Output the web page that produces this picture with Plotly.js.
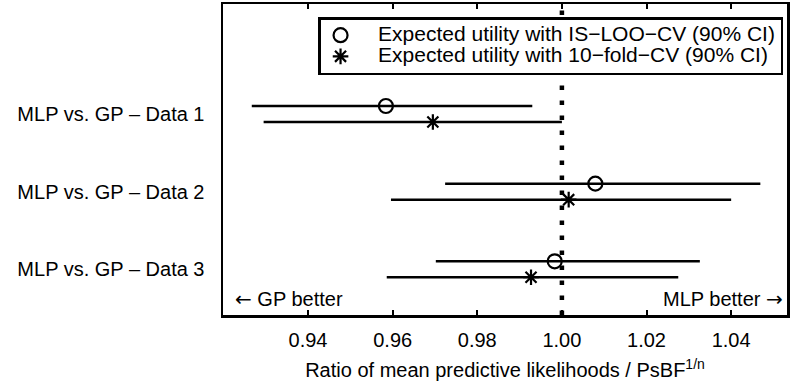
<!DOCTYPE html>
<html>
<head>
<meta charset="utf-8">
<script src="https://cdn.plot.ly/plotly-3.0.1.min.js"></script>
<style>html,body{margin:0;padding:0;background:#fff;}#chart{width:795px;height:388px;}</style>
</head>
<body>
<div id="chart"></div>
<script>
// ---- data ----
const categories = ['MLP vs. GP – Data 1', 'MLP vs. GP – Data 2', 'MLP vs. GP – Data 3'];
const looMean = [0.9584, 1.0079, 0.9983];
const looLow  = [0.9267, 0.9724, 0.9702];
const looHigh = [0.9930, 1.0469, 1.0326];
const cvMean  = [0.9695, 1.0016, 0.9927];
const cvLow   = [0.9295, 0.9596, 0.9586];
const cvHigh  = [1.0000, 1.0400, 1.0275];
const xTicks = [0.94, 0.96, 0.98, 1.00, 1.02, 1.04];
const xTickText = ['0.94', '0.96', '0.98', '1.00', '1.02', '1.04'];
const seriesNames = ['Expected utility with IS−LOO−CV (90% CI)', 'Expected utility with 10−fold−CV (90% CI)'];
const refValue = 1.0;

const FONT = 'Liberation Sans, Arial, Helvetica, sans-serif';
const ARROW = '<span style="font-family:DejaVu Sans">';
const idx = categories.map((_, i) => i);
const off = 0.103;
const pad = '\u00a0\u00a0\u00a0';

function trace(name, mean, low, high, shift, symbol, size) {
  return {
    type: 'scatter', mode: 'markers',
    name: '<span style="font-size:21px">' + pad + name + '</span>',
    x: mean,
    y: idx.map(i => i + shift),
    marker: {symbol: symbol, size: size, color: 'black', line: {color: 'black', width: 2.2}},
    error_x: {
      type: 'data', symmetric: false,
      array: high.map((h, i) => h - mean[i]),
      arrayminus: low.map((l, i) => mean[i] - l),
      color: 'black', thickness: 2.5, width: 0
    },
    hoverinfo: 'x'
  };
}

const data = [
  trace(seriesNames[0], looMean, looLow, looHigh, -off, 'circle-open', 14),
  trace(seriesNames[1], cvMean, cvLow, cvHigh, off, 'asterisk-open', 13)
];

const layout = {
  width: 795, height: 388,
  margin: {l: 223, r: 8, t: 4, b: 73},
  paper_bgcolor: 'white', plot_bgcolor: 'white',
  font: {family: FONT, size: 20, color: 'black'},
  showlegend: true,
  legend: {
    x: 0.993, xanchor: 'right', y: 0.958, yanchor: 'top',
    bgcolor: 'white', bordercolor: 'black', borderwidth: 2.5,
    font: {family: FONT, size: 14, color: 'black'},
    tracegroupgap: 0, itemsizing: 'trace'
  },
  xaxis: {
    range: [0.9199, 1.0532],
    tickvals: xTicks, ticktext: xTickText,
    ticks: 'inside', ticklen: 5, tickwidth: 2, tickcolor: 'black',
    showline: true, linecolor: 'black', linewidth: 2.5, mirror: 'ticks',
    showgrid: false, zeroline: false,
    ticklabelstandoff: 5,
    tickfont: {family: FONT, size: 20, color: 'black'},
    title: {text: 'Ratio of mean predictive likelihoods / PsBF<sup>1/n</sup>',
            font: {family: FONT, size: 20, color: 'black'}, standoff: 14}
  },
  yaxis: {
    range: [2.589, -1.417],
    tickvals: idx, ticktext: categories,
    ticks: '', showline: true, linecolor: 'black', linewidth: 2.5, mirror: true,
    showgrid: false, zeroline: false,
    ticklabelstandoff: 12,
    tickfont: {family: FONT, size: 20, color: 'black'}
  },
  shapes: [{
    type: 'line', xref: 'x', yref: 'paper', x0: refValue, x1: refValue, y0: 0, y1: 1,
    line: {color: 'black', width: 4.5, dash: '4.5px,10.5px'}, layer: 'below'
  }],
  annotations: [
    {xref: 'paper', yref: 'paper', x: 0, y: 0, xanchor: 'left', yanchor: 'bottom',
     xshift: 10, yshift: 2, showarrow: false, text: ARROW + '←</span> GP better',
     font: {family: FONT, size: 20, color: 'black'}},
    {xref: 'paper', yref: 'paper', x: 1, y: 0, xanchor: 'right', yanchor: 'bottom',
     xshift: -2, yshift: 2, showarrow: false, text: 'MLP better ' + ARROW + '→</span>',
     font: {family: FONT, size: 20, color: 'black'}}
  ]
};

Plotly.newPlot('chart', data, layout, {displayModeBar: false, staticPlot: true});
</script>
</body>
</html>
